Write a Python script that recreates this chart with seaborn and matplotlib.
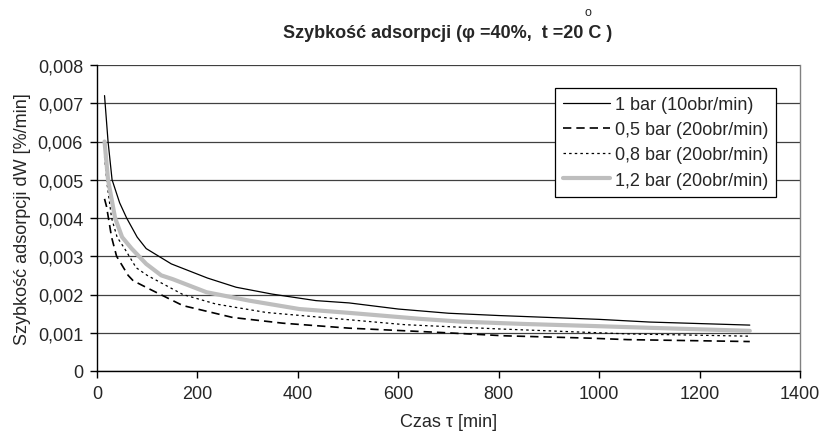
import matplotlib

matplotlib.use("Agg")

import matplotlib.pyplot as plt
import seaborn as sns
from matplotlib.ticker import FuncFormatter, MultipleLocator


TITLE = "Szybkość adsorpcji (φ =40%,  t =20 C )"
X_LABEL = "Czas τ [min]"
Y_LABEL = "Szybkość adsorpcji dW [%/min]"

LABELS = ["1 bar (10obr/min)", "0,5 bar (20obr/min)", "0,8 bar (20obr/min)", "1,2 bar (20obr/min)"]

# 1 bar (10obr/min)
x_1bar = [15, 22, 30, 45, 59, 80, 98, 148, 220, 277, 349, 436, 502, 600, 700, 800, 900, 1000, 1100, 1200, 1300]
y_1bar = [0.0072, 0.0060, 0.0050, 0.0044, 0.0040, 0.0035, 0.0032, 0.0028, 0.00243, 0.00219, 0.00201, 0.00184,
          0.00178, 0.00162, 0.00151, 0.00145, 0.00140, 0.00135, 0.00128, 0.00124, 0.00120]

# 0,5 bar (20obr/min)
x_05bar = [15, 19, 29, 39, 62, 72, 105, 171, 270, 370, 502, 680, 812, 978, 1057, 1300]
y_05bar = [0.0045, 0.0043, 0.0035, 0.0030, 0.0025, 0.00236, 0.00214, 0.00171, 0.00140, 0.00125, 0.00112,
           0.00101, 0.00092, 0.00086, 0.00082, 0.00077]

# 0,8 bar (20obr/min)
x_08bar = [15, 20, 29, 40, 55, 78, 100, 171, 237, 337, 502, 614, 800, 978, 1057, 1300]
y_08bar = [0.0056, 0.0049, 0.0040, 0.0035, 0.0032, 0.0027, 0.0025, 0.0020, 0.00175, 0.00153, 0.00134,
           0.00121, 0.00110, 0.00101, 0.00097, 0.00091]

# 1,2 bar (20obr/min)
x_12bar = [15, 22, 36, 50, 69, 98, 128, 151, 218, 303, 403, 502, 647, 726, 850, 978, 1123, 1300]
y_12bar = [0.0060, 0.0050, 0.0040, 0.0035, 0.0032, 0.0028, 0.0025, 0.0024, 0.00206, 0.00184, 0.00162,
           0.00152, 0.00136, 0.00129, 0.00123, 0.00118, 0.00112, 0.00105]


def comma_fmt(v, _):
    if abs(v) < 1e-12:
        return "0"
    return f"{v:.3f}".replace(".", ",")


def main() -> None:
    sns.set_theme(style="white")
    plt.rcParams["font.family"] = ["Liberation Sans", "DejaVu Sans"]

    fig = plt.figure(figsize=(8.2, 4.35), dpi=100)
    ax = fig.add_axes([97 / 820, 1 - 372 / 435, (800 - 97) / 820, (372 - 66) / 435])

    sns.lineplot(x=x_1bar, y=y_1bar, ax=ax, color="black", linewidth=0.9, label=LABELS[0])
    sns.lineplot(x=x_05bar, y=y_05bar, ax=ax, color="black", linewidth=1.2,
                 linestyle=(0, (5, 3)), label=LABELS[1])
    sns.lineplot(x=x_08bar, y=y_08bar, ax=ax, color="black", linewidth=0.9,
                 linestyle=(0, (2, 2.5)), label=LABELS[2])
    sns.lineplot(x=x_12bar, y=y_12bar, ax=ax, color="#BEBEBE", linewidth=3, label=LABELS[3])

    ax.set_xlim(0, 1400)
    ax.set_ylim(0, 0.008)
    ax.xaxis.set_major_locator(MultipleLocator(200))
    ax.yaxis.set_major_locator(MultipleLocator(0.001))
    ax.yaxis.set_major_formatter(FuncFormatter(comma_fmt))
    ax.grid(axis="y", color="#404040", linewidth=0.9)
    ax.set_axisbelow(True)

    for side in ["left", "bottom"]:
        ax.spines[side].set_color("black")
        ax.spines[side].set_linewidth(1.0)
    ax.spines["right"].set_color("#808080")
    ax.spines["right"].set_linewidth(1.0)
    ax.spines["top"].set_visible(False)

    ax.tick_params(axis="both", which="major", direction="out", length=5, width=1, color="black",
                   labelsize=13, bottom=True, left=True, pad=5)
    ax.set_xlabel(X_LABEL, fontsize=13, labelpad=8)
    ax.set_ylabel(Y_LABEL, fontsize=13, labelpad=5)

    fig.text(448 / 820, 1 - 33 / 435, TITLE, ha="center", va="center", fontsize=13, fontweight="bold")
    fig.text(588 / 820, 1 - 13 / 435, "o", ha="center", va="center", fontsize=9)

    leg = ax.legend(loc="upper left", bbox_to_anchor=(555 / 820, 1 - 89 / 435),
                    bbox_transform=fig.transFigure, borderaxespad=0, fontsize=13,
                    frameon=True, fancybox=False, handlelength=2.6, handletextpad=0.25,
                    labelspacing=0.45, borderpad=0.45)
    leg.get_frame().set_edgecolor("black")
    leg.get_frame().set_linewidth(0.9)
    leg.get_frame().set_alpha(1)

    fig.savefig("out.png", dpi=100)
    plt.close(fig)


if __name__ == "__main__":
    main()
